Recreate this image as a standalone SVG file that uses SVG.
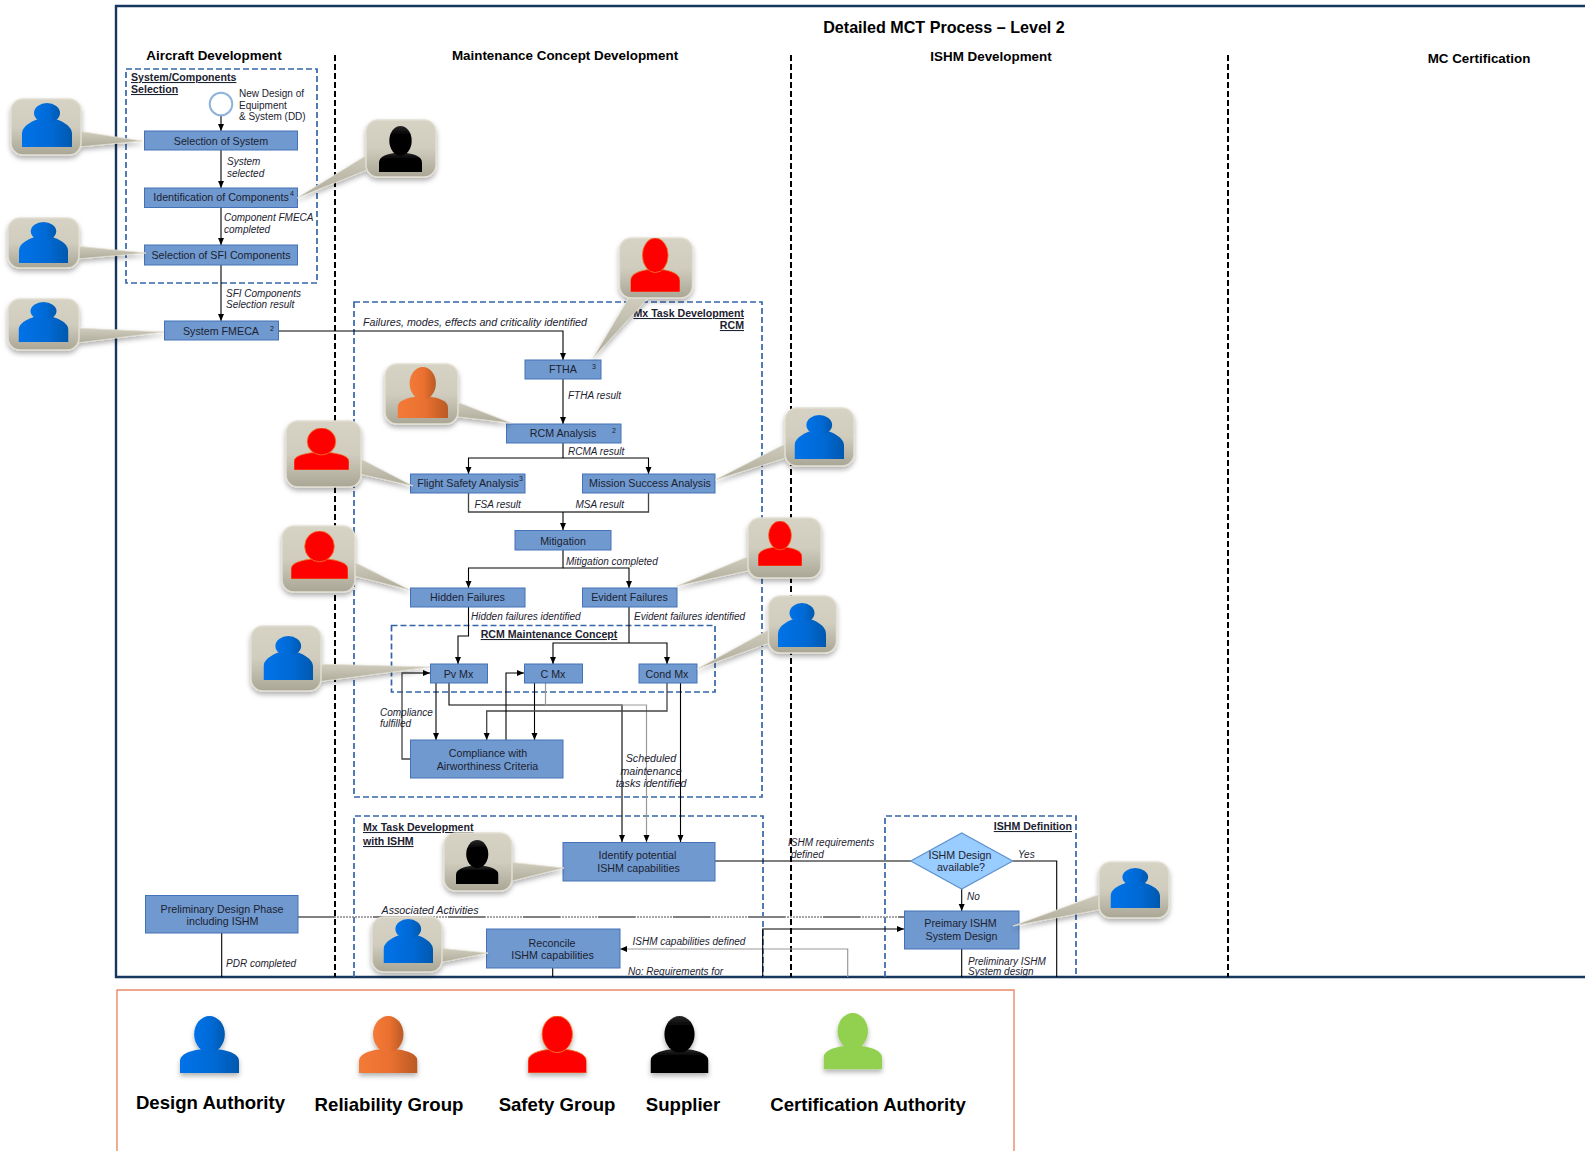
<svg xmlns="http://www.w3.org/2000/svg" xmlns:xlink="http://www.w3.org/1999/xlink" width="1585" height="1151" viewBox="0 0 1585 1151">
<style>
text{font-family:"Liberation Sans",Arial,sans-serif;fill:#1c2230}
.b{font-size:10.7px;text-anchor:middle}
.s{font-size:7px}
.i{font-size:10px;font-style:italic}
.n{font-size:10px}
.w{font-size:10.700px;font-style:italic}
.h{font-size:13.4px;font-weight:bold;text-anchor:middle;fill:#000}
.u{font-size:10.6px;font-weight:bold;text-decoration:underline}
.l{font-size:18.6px;font-weight:bold;text-anchor:middle;fill:#000}
.box{fill:#7099cf;stroke:#4472b8;stroke-width:1}
.dash{fill:none;stroke:#3565a8;stroke-width:1.7;stroke-dasharray:6 3}
.div{fill:none;stroke:#000;stroke-width:2;stroke-dasharray:6 3}
.c{fill:none;stroke:#000;stroke-width:1.1}
.a{marker-end:url(#arr)}
.g{stroke:#444;stroke-width:1.3}
.g2{stroke:#999;stroke-width:1.2}
.tile{fill:url(#tile);stroke:#e2dfd2;stroke-width:1.5}
.tail{fill:url(#tail);stroke:#e2dfd2;stroke-width:.8}
</style>
<defs>
<marker id="arr" markerUnits="userSpaceOnUse" markerWidth="8" markerHeight="8" refX="7" refY="3" orient="auto"><path d="M0 0L7 3L0 6Z" fill="#000"/></marker>
<linearGradient id="tile" x1="0" y1="0" x2="0" y2="1"><stop offset="0" stop-color="#d6d3c5"/><stop offset=".5" stop-color="#d0cdbe"/><stop offset="1" stop-color="#a9a696"/></linearGradient>
<linearGradient id="tail" x1="0" y1="0" x2="0" y2="1"><stop offset="0" stop-color="#d0cdbe"/><stop offset="1" stop-color="#aeab9b"/></linearGradient>
<linearGradient id="gB" x1="0" y1="0" x2="1" y2="0"><stop offset="0" stop-color="#0172e8"/><stop offset=".6" stop-color="#0069d4"/><stop offset="1" stop-color="#0058ad"/></linearGradient>
<linearGradient id="gO" x1="0" y1="0" x2="1" y2="0"><stop offset="0" stop-color="#f47a38"/><stop offset=".55" stop-color="#e9702f"/><stop offset="1" stop-color="#b95a25"/></linearGradient>
<linearGradient id="gK" x1="0" y1="0" x2="0" y2="1"><stop offset="0" stop-color="#2a2a2a"/><stop offset=".3" stop-color="#000"/><stop offset="1" stop-color="#000"/></linearGradient>
<filter id="sh" x="-20%" y="-20%" width="140%" height="140%"><feDropShadow dx="0" dy="3" stdDeviation="2.5" flood-color="#000" flood-opacity=".3"/></filter>
<symbol id="pS" viewBox="0 0 50 44" preserveAspectRatio="none"><path d="M0 44V31C0 22 12 17 20 15H30C38 17 50 22 50 31V44Z"/><ellipse cx="25" cy="10" rx="13" ry="10"/></symbol>
<symbol id="pT" viewBox="0 0 50 53" preserveAspectRatio="none"><path d="M0 53V42C0 35 10 32 18 31H32C40 32 50 35 50 42V53Z"/><ellipse cx="25" cy="17" rx="13" ry="17"/></symbol>
</defs>
<rect width="1585" height="1151" fill="#fff"/>

<g id="frames">
<path d="M1590 6H116V977H1590" fill="none" stroke="#17375e" stroke-width="2.4"/>
<path class="div" d="M335 55V977"/><path class="div" d="M791 55V977"/><path class="div" d="M1228 55V977"/>
<rect class="dash" x="126" y="69" width="191" height="214"/>
<rect class="dash" x="354" y="302" width="408" height="495"/>
<rect class="dash" x="391.500" y="625.500" width="323.500" height="66.500"/>
<path class="dash" d="M354 977V816H763V977"/>
<path class="dash" d="M885 977V816H1076V977"/>
<path d="M117 1151V990H1014V1151" fill="none" stroke="#e98a66" stroke-width="1.4"/>
</g>
<text x="944" y="33" font-size="16.100" font-weight="bold" text-anchor="middle" style="fill:#000">Detailed MCT Process – Level 2</text>
<text class="h" x="214" y="60">Aircraft Development</text>
<text class="h" x="565" y="60">Maintenance Concept Development</text>
<text class="h" x="991" y="61">ISHM Development</text>
<text class="h" x="1479" y="63">MC Certification</text>
<text class="u" x="131" y="81">System/Components</text><text class="u" x="131" y="93">Selection</text>
<text class="u" x="744" y="317" text-anchor="end">Mx Task Development</text><text class="u" x="744" y="329" text-anchor="end">RCM</text>
<text class="u" x="549" y="638" text-anchor="middle">RCM Maintenance Concept</text>
<text class="u" x="363" y="831">Mx Task Development</text><text class="u" x="363" y="845">with ISHM</text>
<text class="u" x="1072" y="830" text-anchor="end">ISHM Definition</text>

<g id="connectors">
<path class="c a" d="M221 116V131"/><path class="c a" d="M221 150V188"/><path class="c a" d="M221 207V245"/><path class="c a" d="M221 265V321"/>
<path class="c a" d="M278 331H563V360"/><path class="c a" d="M563 378V424"/>
<path class="c a" d="M563 443V458H468.500V474"/><path class="c a" d="M563 458H648.500V474"/>
<path class="c g" d="M468.500 492V512H648.500V492"/><path class="c a" d="M563 512V530"/>
<path class="c a" d="M563 550V568H468.500V588"/><path class="c a" d="M563 568H629V588"/>
<path class="c a" d="M468.500 606V636H458V664"/>
<path class="c" d="M629 606V643"/><path class="c a" d="M629 643H553V664"/><path class="c a" d="M629 643H667V664"/>
<path class="c a" d="M436 683V740"/><path class="c a" d="M449 683V705H622V842"/>
<path class="c a" d="M534.500 683V740"/><path class="c g2 a" d="M545.500 683V705H646.500V842"/>
<path class="c g a" d="M667 683V711H486.700V740"/><path class="c a" d="M680.500 683V842"/>
<path class="c g a" d="M410 759H402V673H430"/><path class="c a" d="M506 740V673H524"/>
<path class="c" d="M715 861H911"/><path class="c" d="M1012.700 861H1056.700V977"/>
<path class="c a" d="M961.700 889V911"/>
<path fill="none" stroke="#888" stroke-width="1.400" stroke-dasharray="2 1" d="M298 917H904"/>
<path fill="none" stroke="#808080" stroke-width="2.200" stroke-dasharray="37 38" d="M298 917H904"/>
<path class="c" d="M221.700 933V977"/><path class="c" d="M552.700 968V977"/>
<path class="c g2 a" d="M847.700 977V949H620"/><path class="c a" d="M762.700 977V929H904"/>
<path class="c" d="M961.700 949V977"/>
</g>

<g id="start"><circle cx="221" cy="104" r="11.300" fill="#fff" stroke="#8fb2dc" stroke-width="2"/>
<text class="n" x="239" y="97">New Design of</text><text class="n" x="239" y="108.500">Equipment</text><text class="n" x="239" y="119.500">&amp; System (DD)</text></g>
<g id="n-selection-system"><rect class="box" x="144.500" y="131" width="153" height="19"/><text class="b" x="221" y="145">Selection of System</text></g>
<g id="n-identification"><rect class="box" x="144.500" y="188" width="153" height="19.500"/><text class="b" x="221" y="201">Identification of Components</text><text class="s" x="290" y="196">4</text></g>
<g id="n-sfi"><rect class="box" x="144.500" y="245" width="153" height="20"/><text class="b" x="221" y="259">Selection of SFI Components</text></g>
<g id="n-fmeca"><rect class="box" x="164.500" y="321" width="114" height="19"/><text class="b" x="221" y="335">System FMECA</text><text class="s" x="270" y="331">2</text></g>
<g id="n-ftha"><rect class="box" x="525" y="360" width="76" height="19"/><text class="b" x="563" y="373">FTHA</text><text class="s" x="592" y="369">3</text></g>
<g id="n-rcm"><rect class="box" x="506.500" y="424" width="114.500" height="19"/><text class="b" x="563" y="437">RCM Analysis</text><text class="s" x="612" y="433">2</text></g>
<g id="n-fsa"><rect class="box" x="410.500" y="474" width="114.500" height="19"/><text class="b" x="468" y="487">Flight Safety Analysis</text><text class="s" x="519" y="481">3</text></g>
<g id="n-msa"><rect class="box" x="582.500" y="474" width="132.500" height="19"/><text class="b" x="650" y="487">Mission Success Analysis</text></g>
<g id="n-mitigation"><rect class="box" x="515" y="530.500" width="96" height="19.500"/><text class="b" x="563" y="545">Mitigation</text></g>
<g id="n-hidden"><rect class="box" x="410.500" y="588" width="114.500" height="19"/><text class="b" x="467.500" y="601">Hidden Failures</text></g>
<g id="n-evident"><rect class="box" x="582.500" y="588" width="94.500" height="19"/><text class="b" x="629.500" y="601">Evident Failures</text></g>
<g id="n-pv"><rect class="box" x="430.500" y="664" width="57" height="19"/><text class="b" x="458.500" y="678">Pv Mx</text></g>
<g id="n-c"><rect class="box" x="524.500" y="664" width="58" height="19"/><text class="b" x="553" y="678">C Mx</text></g>
<g id="n-cond"><rect class="box" x="639" y="664" width="58" height="19"/><text class="b" x="667" y="678">Cond Mx</text></g>
<g id="n-compliance"><rect class="box" x="410.500" y="740" width="152.500" height="38"/><text class="b" x="488" y="756.500">Compliance with</text><text class="b" x="487.500" y="769.500">Airworthiness Criteria</text></g>
<g id="n-identify"><rect class="box" x="563" y="842.500" width="152" height="38.500"/><text class="b" x="637.500" y="859">Identify potential</text><text class="b" x="638.500" y="872">ISHM capabilities</text></g>
<g id="n-prelim-phase"><rect class="box" x="145.500" y="895.500" width="152.500" height="37.500"/><text class="b" x="222" y="913">Preliminary Design Phase</text><text class="b" x="222.500" y="924.500">including ISHM</text></g>
<g id="n-reconcile"><rect class="box" x="486.500" y="929" width="133.500" height="39"/><text class="b" x="552" y="947">Reconcile</text><text class="b" x="552.500" y="958.500">ISHM capabilities</text></g>
<g id="n-diamond"><path d="M910.700 861L961.700 833L1012.700 861L961.700 889Z" fill="#99ccff" stroke="#5f93cf" stroke-width="1.200"/><text class="b" x="960" y="859">ISHM Design</text><text class="b" x="961" y="871">available?</text></g>
<g id="n-prelim-ishm"><rect class="box" x="904.500" y="911" width="114.500" height="38"/><text class="b" x="960.500" y="927">Preimary ISHM</text><text class="b" x="961.500" y="940">System Design</text></g>

<g id="labels">
<text class="i" x="227" y="165">System</text><text class="i" x="227" y="177">selected</text>
<text class="i" x="224" y="221">Component FMECA</text><text class="i" x="224" y="233">completed</text>
<text class="i" x="226" y="297">SFI Components</text><text class="i" x="226" y="308">Selection result</text>
<text class="w" x="363" y="326">Failures, modes, effects and criticality identified</text>
<text class="i" x="568" y="399">FTHA result</text><text class="i" x="568" y="455">RCMA result</text>
<text class="i" x="474.500" y="508">FSA result</text><text class="i" x="575.500" y="508">MSA result</text>
<text class="i" x="566" y="565">Mitigation completed</text>
<text class="i" x="471" y="620">Hidden failures identified</text><text class="i" x="634" y="620">Evident failures identified</text>
<text class="i" x="380" y="716">Compliance</text><text class="i" x="380" y="727">fulfilled</text>
<text class="w" x="651" y="762" text-anchor="middle">Scheduled</text><text class="w" x="651" y="775" text-anchor="middle">maintenance</text><text class="w" x="651" y="787" text-anchor="middle">tasks identified</text>
<text class="w" x="381.500" y="914">Associated Activities</text>
<text class="i" x="632.500" y="945">ISHM capabilities defined</text>
<text class="i" x="628" y="974.500">No: Requirements for</text>
<text class="i" x="226" y="967">PDR completed</text>
<text class="i" x="788" y="846">ISHM requirements</text><text class="i" x="791" y="858">defined</text>
<text class="i" x="1018" y="858">Yes</text><text class="i" x="967" y="900">No</text>
<text class="i" x="968" y="965">Preliminary ISHM</text><text class="i" x="968" y="975">System design</text>
</g>

<g id="c-selection-system" filter="url(#sh)"><path class="tail" d="M78 131L142 141L78 147Z"/><rect class="tile" x="11" y="99" width="70" height="56" rx="12"/><use href="#pS" x="22" y="103" width="50" height="44" fill="url(#gB)"/></g>
<g id="c-identification" filter="url(#sh)"><path class="tail" d="M372 152L297 198L372 168Z"/><rect class="tile" x="366" y="120" width="70" height="57" rx="12"/><use href="#pT" x="379" y="126" width="43" height="46" fill="url(#gK)"/></g>
<g id="c-sfi" filter="url(#sh)"><path class="tail" d="M76 246L146 253L76 259Z"/><rect class="tile" x="8" y="218" width="71" height="50" rx="12"/><use href="#pS" x="19" y="222" width="49" height="41" fill="url(#gB)"/></g>
<g id="c-fmeca" filter="url(#sh)"><path class="tail" d="M76 328L164 332L76 343Z"/><rect class="tile" x="8" y="299" width="71" height="51" rx="12"/><use href="#pS" x="18.500" y="302" width="50" height="40" fill="url(#gB)"/></g>
<g id="c-ftha" filter="url(#sh)"><path class="tail" d="M630 296L593 358L650 296Z"/><rect class="tile" x="619.500" y="238" width="73" height="60" rx="12"/><use href="#pT" x="630.500" y="238" width="49.500" height="54" fill="#f00" stroke="#ed7d31" stroke-width=".8"/></g>
<g id="c-rcm" filter="url(#sh)"><path class="tail" d="M452 400L511 423L450 416Z"/><rect class="tile" x="385" y="364" width="73" height="60" rx="12"/><use href="#pT" x="397.500" y="367" width="50.500" height="51" fill="url(#gO)"/></g>
<g id="c-fsa" filter="url(#sh)"><path class="tail" d="M355 456L413 486L355 473Z"/><rect class="tile" x="286" y="421" width="75" height="66" rx="12"/><use href="#pT" x="294" y="428" width="55" height="42" fill="#f00" stroke="#ed7d31" stroke-width=".8"/></g>
<g id="c-msa" filter="url(#sh)"><path class="tail" d="M789 442L715 480L789 457Z"/><rect class="tile" x="785" y="408" width="69" height="58" rx="12"/><use href="#pS" x="794.500" y="415" width="49.500" height="44" fill="url(#gB)"/></g>
<g id="c-hidden" filter="url(#sh)"><path class="tail" d="M350 560L410 590L350 575Z"/><rect class="tile" x="282" y="526" width="73" height="66" rx="12"/><use href="#pT" x="291" y="531" width="57" height="48" fill="#f00" stroke="#ed7d31" stroke-width=".8"/></g>
<g id="c-evident" filter="url(#sh)"><path class="tail" d="M752 555L677 586L752 570Z"/><rect class="tile" x="748" y="518" width="73" height="60" rx="12"/><use href="#pT" x="758" y="521" width="44" height="45" fill="#f00" stroke="#ed7d31" stroke-width=".8"/></g>
<g id="c-pv" filter="url(#sh)"><path class="tail" d="M316 664L430 667L316 682Z"/><rect class="tile" x="251" y="626" width="70" height="65" rx="12"/><use href="#pS" x="263.500" y="636" width="49.500" height="44" fill="url(#gB)"/></g>
<g id="c-cond" filter="url(#sh)"><path class="tail" d="M772 628L697 669L772 642Z"/><rect class="tile" x="768.500" y="596" width="68" height="57" rx="12"/><use href="#pS" x="778" y="603" width="48" height="44" fill="url(#gB)"/></g>
<g id="c-identify" filter="url(#sh)"><path class="tail" d="M508 862L564 868L508 882Z"/><rect class="tile" x="444" y="833" width="68" height="58" rx="12"/><use href="#pT" x="456" y="840" width="42.500" height="44" fill="url(#gK)"/></g>
<g id="c-reconcile" filter="url(#sh)"><path class="tail" d="M438 948L488 953L438 963Z"/><rect class="tile" x="372" y="917" width="70" height="55" rx="12"/><use href="#pS" x="383.500" y="919" width="49.500" height="44" fill="url(#gB)"/></g>
<g id="c-prelim-ishm" filter="url(#sh)"><path class="tail" d="M1103 893L1013 926L1103 909Z"/><rect class="tile" x="1099" y="862" width="70" height="56" rx="12"/><use href="#pS" x="1110.500" y="868" width="49.500" height="40" fill="url(#gB)"/></g>

<g id="legend">
<g filter="url(#sh)"><use href="#pT" x="180" y="1016" width="59" height="57" fill="url(#gB)"/></g>
<g filter="url(#sh)"><use href="#pT" x="359" y="1016" width="58.500" height="57" fill="url(#gO)"/></g>
<g filter="url(#sh)"><use href="#pT" x="528" y="1016" width="58.500" height="57" fill="#f00" stroke="#ed7d31" stroke-width=".8"/></g>
<g filter="url(#sh)"><use href="#pT" x="650.500" y="1016" width="58" height="57" fill="url(#gK)"/></g>
<g filter="url(#sh)"><use href="#pT" x="823.500" y="1013" width="58.500" height="56.500" fill="#92d050"/></g>
<text class="l" x="210.500" y="1109">Design Authority</text>
<text class="l" x="389" y="1111">Reliability Group</text>
<text class="l" x="557" y="1111">Safety Group</text>
<text class="l" x="683" y="1111">Supplier</text>
<text class="l" x="868" y="1111">Certification Authority</text>
</g>
</svg>
